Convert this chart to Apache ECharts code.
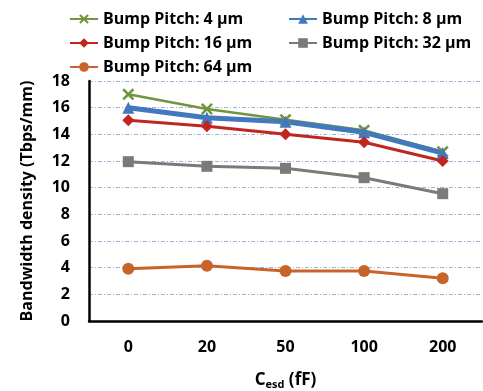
<!DOCTYPE html>
<html>
<head>
<meta charset="utf-8">
<script src="https://cdn.jsdelivr.net/npm/echarts@6/dist/echarts.min.js"></script>
<style>
  html, body { margin: 0; padding: 0; background: #fff; }
  #main { width: 483px; height: 391px; }
</style>
</head>
<body>
<div id="main"></div>
<script>
const categories = ['0', '20', '50', '100', '200']
const pitch4 = [17.0, 15.9, 15.1, 14.3, 12.7]
const pitch8 = [16.0, 15.25, 14.95, 14.15, 12.6]
const pitch16 = [15.05, 14.6, 14.0, 13.4, 12.0]
const pitch32 = [11.95, 11.6, 11.45, 10.75, 9.55]
const pitch64 = [3.92, 4.15, 3.75, 3.75, 3.2]
const yTicks = { min: 0, max: 18, interval: 2 }

const xPath = 'path://M0,1.5L1.5,0L5,3.5L8.5,0L10,1.5L6.5,5L10,8.5L8.5,10L5,6.5L1.5,10L0,8.5L3.5,5Z'
const font = '"Open Sans", "Liberation Sans", sans-serif'

const chart = echarts.init(document.getElementById('main'))

const mk = (name, data, color, symbol, size, width) => ({
  name,
  type: 'line',
  data,
  symbol,
  symbolSize: size,
  showSymbol: true,
  lineStyle: { color, width },
  itemStyle: { color },
  z: 3,
})

const legendText = { fontSize: 16, fontWeight: 'bold', color: '#000', fontFamily: font }

chart.setOption({
  animation: false,
  textStyle: { fontFamily: font },
  legend: [
    {
      orient: 'vertical',
      left: 64,
      top: 6,
      itemGap: 8,
      itemWidth: 28,
      itemHeight: 12,
      data: ['Bump Pitch: 4 µm', 'Bump Pitch: 16 µm', 'Bump Pitch: 64 µm'],
      textStyle: legendText,
    },
    {
      orient: 'vertical',
      left: 283,
      top: 6,
      itemGap: 8,
      itemWidth: 28,
      itemHeight: 12,
      data: ['Bump Pitch: 8 µm', 'Bump Pitch: 32 µm'],
      textStyle: legendText,
    },
  ],
  grid: { left: 89, right: 1, top: 81, bottom: 70, outerBoundsMode: 'none', containLabel: false },
  xAxis: {
    type: 'category',
    data: categories,
    boundaryGap: true,
    axisLine: { lineStyle: { color: '#000', width: 2.5 } },
    axisTick: { show: false },
    axisLabel: { margin: 18, fontSize: 16, fontWeight: 'bold', color: '#000' },
    name: '{c|C}{s|esd}{c| (fF)}',
    nameLocation: 'middle',
    nameGap: 49,
    nameTextStyle: {
      rich: {
        c: { fontSize: 17, fontWeight: 'bold', color: '#000', fontFamily: font },
        s: { fontSize: 11, fontWeight: 'bold', color: '#000', fontFamily: font, verticalAlign: 'bottom', padding: [9, 0, 0, 0] },
      },
    },
  },
  yAxis: {
    type: 'value',
    min: yTicks.min,
    max: yTicks.max,
    interval: yTicks.interval,
    axisLine: { show: true, lineStyle: { color: '#000', width: 2.5 } },
    axisTick: { show: false },
    axisLabel: { margin: 19, fontSize: 16, fontWeight: 'bold', color: '#000' },
    splitLine: { lineStyle: { color: '#9fb2d8', type: [4, 2, 1, 2], width: 1 } },
    name: 'Bandwidth density (Tbps/mm)',
    nameLocation: 'middle',
    nameGap: 54,
    nameTextStyle: { fontSize: 16, fontWeight: 'bold', color: '#000' },
  },
  series: [
    mk('Bump Pitch: 4 µm', pitch4, '#71943f', xPath, 12, 2.5),
    mk('Bump Pitch: 8 µm', pitch8, '#4278be', 'triangle', 12, 5),
    mk('Bump Pitch: 16 µm', pitch16, '#c0261f', 'diamond', 12, 3),
    mk('Bump Pitch: 32 µm', pitch32, '#7a7a7a', 'rect', 11, 3),
    mk('Bump Pitch: 64 µm', pitch64, '#c8642a', 'circle', 12, 3),
  ],
})
</script>
</body>
</html>
